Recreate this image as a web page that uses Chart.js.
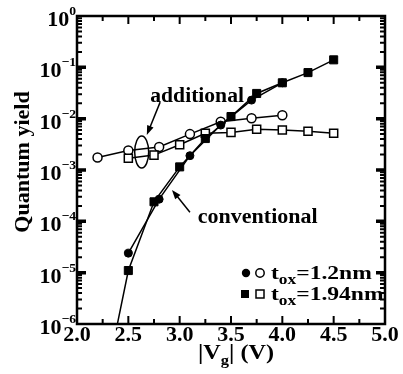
<!DOCTYPE html>
<html>
<head>
<meta charset="utf-8">
<script src="https://cdn.jsdelivr.net/npm/chart.js@4"></script>
<style>
    html, body { margin: 0; padding: 0; background: #fff; }
    #wrap { width: 403px; height: 374px; }
</style>
</head>
<body>
<div id="wrap"><canvas id="qyChart" width="403" height="374"></canvas></div>
<script>
/* ================= DATA ================= */
const vThin = [2.2, 2.5, 2.8, 3.1, 3.4, 3.7, 4.0];
const addThin = [1.75e-3, 2.4e-3, 2.8e-3, 5.0e-3, 8.7e-3, 1.02e-2, 1.17e-2];

const vThick = [2.5, 2.75, 3.0, 3.25, 3.5, 3.75, 4.0, 4.25, 4.5];
const addThick = [1.7e-3, 1.95e-3, 3.1e-3, 5.2e-3, 5.4e-3, 6.2e-3, 6.0e-3, 5.7e-3, 5.2e-3];

const vConvThin = [2.5, 2.8, 3.1, 3.4, 3.7, 4.0];
const convThin = [2.4e-5, 2.7e-4, 1.9e-3, 7.5e-3, 2.3e-2, 5.0e-2];

const vConvThick = [2.25, 2.5, 2.75, 3.0, 3.25, 3.5, 3.75, 4.0, 4.25, 4.5];
const convThick = [4e-8, 1.1e-5, 2.4e-4, 1.15e-3, 4.1e-3, 1.1e-2, 3.1e-2, 5.0e-2, 7.9e-2, 0.14];

const xTicks = [2.0, 2.5, 3.0, 3.5, 4.0, 4.5, 5.0];
const yExponents = [0, -1, -2, -3, -4, -5, -6];

const SERIF = '"Liberation Serif", "DejaVu Serif", serif';

const pts = (xs, ys) => xs.map((x, i) => ({ x: x, y: ys[i] }));

/* ================= TEXT HELPERS ================= */
// the scanned figure has slightly wide lettering, so text gets a horizontal stretch
function wideText(ctx, text, x, y, size, sx, align) {
    ctx.font = 'bold ' + size + 'px ' + SERIF;
    const w = ctx.measureText(text).width * sx;
    let left = x;
    if (align === 'center') left = x - w / 2;
    if (align === 'right') left = x - w;
    ctx.save();
    ctx.translate(left, y);
    ctx.scale(sx, 1);
    ctx.textAlign = 'left';
    ctx.fillText(text, 0, 0);
    ctx.restore();
    return w;
}

function textWidth(ctx, text, size, sx) {
    ctx.font = 'bold ' + size + 'px ' + SERIF;
    return ctx.measureText(text).width * sx;
}

/* ================= FRAME, TICKS AND LABELS ================= */
const framePlugin = {
    id: 'frame',
    afterDraw(chart) {
        const { ctx, chartArea: a, scales } = chart;
        const xs = scales.x, ys = scales.y;
        ctx.save();
        ctx.strokeStyle = '#000';
        ctx.fillStyle = '#000';

        // frame
        ctx.lineWidth = 2.5;
        ctx.strokeRect(a.left, a.top, a.right - a.left, a.bottom - a.top);

        // ticks on all four sides, pointing inwards
        ctx.lineWidth = 2;
        ctx.beginPath();
        for (let k = 0; k <= 12; k++) {
            const px = xs.getPixelForValue(2 + k * 0.25);
            const len = k % 2 === 0 ? 8 : 5;
            ctx.moveTo(px, a.bottom); ctx.lineTo(px, a.bottom - len);
            ctx.moveTo(px, a.top); ctx.lineTo(px, a.top + len);
        }
        for (let e = -6; e < 0; e++) {
            for (let m = 1; m <= 9; m++) {
                const py = ys.getPixelForValue(m * Math.pow(10, e));
                const len = m === 1 ? 9 : 5;
                ctx.moveTo(a.left, py); ctx.lineTo(a.left + len, py);
                ctx.moveTo(a.right, py); ctx.lineTo(a.right - len, py);
            }
        }
        ctx.stroke();

        // heavier decade marks
        ctx.lineWidth = 3.5;
        ctx.beginPath();
        for (let e = -5; e < 0; e++) {
            const py = ys.getPixelForValue(Math.pow(10, e));
            ctx.moveTo(a.left, py); ctx.lineTo(a.left + 9, py);
            ctx.moveTo(a.right, py); ctx.lineTo(a.right - 9, py);
        }
        ctx.stroke();

        // x tick labels
        ctx.textBaseline = 'alphabetic';
        xTicks.forEach(v => {
            wideText(ctx, v.toFixed(1), xs.getPixelForValue(v), a.bottom + 17, 20, 1.1, 'center');
        });

        // y tick labels 10^n
        yExponents.forEach(e => {
            const py = ys.getPixelForValue(Math.pow(10, e));
            const sup = e === 0 ? '0' : '\u2212' + (-e);
            const supW = textWidth(ctx, sup, 13, 1.05);
            const supX = a.left - 1 - supW;
            wideText(ctx, sup, supX, py - 1, 13, 1.05, 'left');
            wideText(ctx, '10', supX, py + 10, 20, 1.1, 'right');
        });

        // y axis title
        ctx.save();
        ctx.translate(29, 162);
        ctx.rotate(-Math.PI / 2);
        wideText(ctx, 'Quantum yield', 0, 0, 21, 1.05, 'center');
        ctx.restore();

        // x axis title |Vg| (V)
        const w1 = textWidth(ctx, '|V', 21, 1.15);
        const w2 = textWidth(ctx, 'g', 15, 1.1);
        const w3 = textWidth(ctx, '| (V)', 21, 1.15);
        let tx = (a.left + a.right) / 2 + 5 - (w1 + w2 + w3) / 2;
        const ty = 359;
        tx += wideText(ctx, '|V', tx, ty, 21, 1.15, 'left');
        tx += wideText(ctx, 'g', tx, ty + 6, 15, 1.1, 'left');
        wideText(ctx, '| (V)', tx, ty, 21, 1.15, 'left');

        ctx.restore();
    }
};

/* ================= ANNOTATIONS AND LEGEND ================= */
function arrow(ctx, x1, y1, x2, y2) {
    const ang = Math.atan2(y2 - y1, x2 - x1);
    ctx.beginPath();
    ctx.moveTo(x1, y1);
    ctx.lineTo(x2 - 6 * Math.cos(ang), y2 - 6 * Math.sin(ang));
    ctx.stroke();
    ctx.beginPath();
    ctx.moveTo(x2, y2);
    ctx.lineTo(x2 - 10 * Math.cos(ang - 0.35), y2 - 10 * Math.sin(ang - 0.35));
    ctx.lineTo(x2 - 10 * Math.cos(ang + 0.35), y2 - 10 * Math.sin(ang + 0.35));
    ctx.closePath();
    ctx.fill();
}

const notePlugin = {
    id: 'notes',
    afterDraw(chart) {
        const { ctx, scales } = chart;
        const X = v => scales.x.getPixelForValue(v);
        const Y = v => scales.y.getPixelForValue(v);
        ctx.save();
        ctx.strokeStyle = '#000';
        ctx.fillStyle = '#000';
        ctx.lineWidth = 1.5;
        ctx.textBaseline = 'alphabetic';

        wideText(ctx, 'additional', X(3.17), Y(0.029) + 7, 20, 1.08, 'center');
        wideText(ctx, 'conventional', X(3.76), Y(1.26e-4) + 7, 20, 1.1, 'center');

        arrow(ctx, X(2.81), Y(2.1e-2), X(2.68), Y(4.8e-3));
        arrow(ctx, X(3.10), Y(1.5e-4), X(2.925), Y(4.1e-4));

        ctx.beginPath();
        ctx.ellipse(X(2.63), Y(2.24e-3), 7, 16, 0, 0, Math.PI * 2);
        ctx.stroke();

        // legend
        const rows = [
            { y: 273, filled: 'circle', text: '=1.2nm' },
            { y: 294, filled: 'rect', text: '=1.94nm' }
        ];
        rows.forEach(r => {
            if (r.filled === 'circle') {
                ctx.beginPath(); ctx.arc(246, r.y, 4.2, 0, Math.PI * 2); ctx.fill();
                ctx.beginPath(); ctx.arc(260, r.y, 4.2, 0, Math.PI * 2);
                ctx.fillStyle = '#fff'; ctx.fill(); ctx.fillStyle = '#000'; ctx.stroke();
            } else {
                ctx.fillRect(241, r.y - 4, 8, 8);
                ctx.fillStyle = '#fff'; ctx.fillRect(256, r.y - 4, 8, 8); ctx.fillStyle = '#000';
                ctx.strokeRect(256, r.y - 4, 8, 8);
            }
            let tx = 271;
            tx += wideText(ctx, 't', tx, r.y + 6, 19, 1.24, 'left');
            tx += wideText(ctx, 'ox', tx, r.y + 11, 14, 1.24, 'left');
            wideText(ctx, r.text, tx, r.y + 6, 19, 1.24, 'left');
        });
        ctx.restore();
    }
};

/* ================= CHART ================= */
const filledStyle = (style, r) => ({
    borderColor: '#000', backgroundColor: '#000', pointBorderColor: '#000',
    pointBackgroundColor: '#000', pointStyle: style, pointRadius: r,
    borderWidth: 1.5, pointBorderWidth: 1, tension: 0
});
const openStyle = (style, r) => ({
    borderColor: '#000', backgroundColor: '#fff', pointBorderColor: '#000',
    pointBackgroundColor: '#fff', pointStyle: style, pointRadius: r,
    borderWidth: 1.5, pointBorderWidth: 1.5, tension: 0
});

new Chart(document.getElementById('qyChart'), {
    type: 'line',
    data: {
        datasets: [
            Object.assign({ label: 'conventional 1.94nm', data: pts(vConvThick, convThick) },
                filledStyle('rect', 5.7), { pointRadius: convThick.map((v, i) => i === 0 ? 0 : 5.7) }),
            Object.assign({ label: 'conventional 1.2nm', data: pts(vConvThin, convThin) }, filledStyle('circle', 4)),
            Object.assign({ label: 'additional 1.94nm', data: pts(vThick, addThick) }, openStyle('rect', 5.7)),
            Object.assign({ label: 'additional 1.2nm', data: pts(vThin, addThin) }, openStyle('circle', 4.5))
        ]
    },
    options: {
        responsive: false,
        animation: false,
        layout: { padding: { left: 77, right: 18, top: 16, bottom: 50 } },
        plugins: { legend: { display: false }, tooltip: { enabled: false } },
        scales: {
            x: { type: 'linear', min: 2, max: 5, display: false },
            y: { type: 'logarithmic', min: 1e-6, max: 1, display: false }
        }
    },
    plugins: [framePlugin, notePlugin]
});
</script>
</body>
</html>
